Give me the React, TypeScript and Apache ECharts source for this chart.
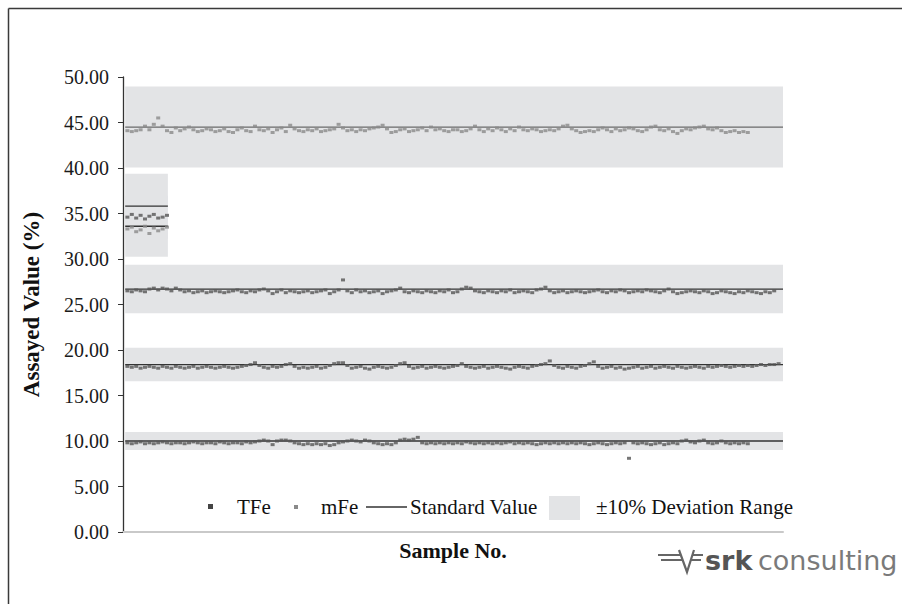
import React, { useEffect, useRef } from "react";
import * as echarts from "echarts";

// Standard (certified) values of the reference materials
const standardValues = [44.5, 35.8, 33.6, 26.7, 18.4, 10.0];
// Sample-number span covered by each standard's line and ±10% band
const standardSpans: [number, number][] = [
  [0.5, 150],
  [0.5, 10.2],
  [0.5, 10.2],
  [0.5, 150],
  [0.5, 150],
  [0.5, 150],
];

// Assayed values (sample No. = index + 1)
const mFe_44_5 = [
  44.1, 44.0, 44.1, 44.2, 44.6, 44.2, 44.8, 45.5, 44.6, 44.1,
  43.9, 44.4, 44.1, 44.3, 44.5, 44.2, 44.0, 44.1, 44.3, 44.2,
  44.0, 44.1, 44.3, 44.0, 43.9, 44.2, 44.4, 44.1, 44.0, 44.6,
  44.2, 44.1, 44.3, 43.9, 44.2, 44.4, 44.0, 44.7, 44.3, 44.1,
  44.0, 44.2, 44.1, 44.3, 44.0, 44.1, 44.2, 44.3, 44.8, 44.4,
  44.1, 44.2, 44.0, 44.2, 44.1, 44.3, 44.4, 44.5, 44.7, 44.3,
  43.9, 44.0, 44.2, 44.3, 44.0, 44.1, 44.2, 44.4, 44.1, 44.5,
  44.2, 44.3, 44.1, 44.0, 44.2, 44.2, 44.0, 44.1, 44.3, 44.6,
  44.2, 44.0, 44.3, 44.1, 44.4, 44.2, 44.0, 44.3, 44.1, 44.5,
  44.2, 44.1, 44.3, 44.2, 44.0, 44.1, 44.2, 44.1, 44.3, 44.6,
  44.7, 44.3, 44.1, 43.9, 44.0, 44.1, 44.0, 44.2, 44.4, 44.2,
  44.0, 44.3, 44.1, 44.2, 44.4, 44.3, 44.1, 44.0, 44.2, 44.5,
  44.6, 44.2, 44.1, 44.3, 44.0, 43.8, 44.1, 44.3, 44.2, 44.4,
  44.5, 44.6, 44.3, 44.2, 44.4, 44.1, 43.9, 44.0, 44.1, 43.9,
  44.0, 43.9,
];
const tFe_35_8 = [34.6, 34.9, 34.5, 34.8, 34.4, 34.7, 34.9, 34.5, 34.6, 34.8];
const mFe_33_6 = [33.3, 33.5, 33.0, 33.2, 33.6, 32.8, 33.4, 33.1, 33.3, 33.5];
const tFe_26_7 = [
  26.5, 26.4, 26.6, 26.5, 26.4, 26.7, 26.8, 26.6, 26.8, 26.7,
  26.5, 26.8, 26.6, 26.4, 26.5, 26.3, 26.4, 26.5, 26.3, 26.4,
  26.5, 26.4, 26.3, 26.4, 26.5, 26.6, 26.4, 26.3, 26.5, 26.4,
  26.6, 26.7, 26.5, 26.2, 26.4, 26.6, 26.3, 26.5, 26.4, 26.3,
  26.4, 26.5, 26.3, 26.4, 26.5, 26.6, 26.2, 26.4, 26.6, 27.7,
  26.5, 26.3, 26.6, 26.4, 26.5, 26.3, 26.4, 26.5, 26.2, 26.4,
  26.5, 26.6, 26.8, 26.4, 26.3, 26.5, 26.4, 26.3, 26.5, 26.4,
  26.3, 26.5, 26.4, 26.6, 26.3, 26.4, 26.7, 26.9, 26.8, 26.5,
  26.4, 26.3, 26.5, 26.4, 26.3, 26.5, 26.4, 26.6, 26.3, 26.4,
  26.5, 26.4, 26.3, 26.6, 26.7, 26.9, 26.5, 26.3, 26.4, 26.5,
  26.3, 26.4, 26.5, 26.4, 26.3, 26.4, 26.5, 26.6, 26.4, 26.3,
  26.5, 26.4, 26.6, 26.5, 26.3, 26.4, 26.5, 26.4, 26.6, 26.5,
  26.4, 26.3, 26.5, 26.7, 26.4, 26.2, 26.3, 26.4, 26.5, 26.4,
  26.3, 26.5, 26.4, 26.2, 26.3, 26.5, 26.4, 26.3, 26.2, 26.4,
  26.3, 26.5, 26.4, 26.3, 26.2, 26.4, 26.3, 26.5,
];
const tFe_18_4 = [
  18.2, 18.1, 18.2, 18.0, 18.1, 18.2, 18.1, 18.0, 18.2, 18.1,
  18.0, 18.2, 18.1, 18.0, 18.1, 18.2, 18.0, 18.1, 18.2, 18.1,
  18.0, 18.1, 18.2, 18.1, 18.0, 18.1, 18.2, 18.3, 18.4, 18.6,
  18.3, 18.1, 18.0, 18.2, 18.1, 18.2, 18.4, 18.5, 18.2, 18.0,
  18.1, 18.0, 18.1, 18.2, 18.0, 18.1, 18.3, 18.5, 18.6, 18.6,
  18.3, 18.0, 18.1, 18.2, 18.0, 17.9, 18.1, 18.2, 18.1, 18.0,
  18.1, 18.3, 18.5, 18.6, 18.2, 18.0, 18.1, 18.2, 18.0, 18.1,
  18.2, 18.1, 18.0, 18.1, 18.2, 18.3, 18.5, 18.2, 18.1, 18.0,
  18.1, 18.2, 18.0, 18.1, 18.2, 18.1, 18.0, 17.9, 18.1, 18.2,
  18.1, 18.0, 18.2, 18.3, 18.4, 18.5, 18.8, 18.3, 18.1, 18.0,
  18.2, 18.1, 18.0, 18.2, 18.3, 18.5, 18.7, 18.2, 18.0, 18.1,
  18.2, 18.0, 18.1, 17.9, 18.0, 18.1, 18.2, 18.0, 18.1, 18.2,
  18.0, 18.1, 18.2, 18.1, 18.0, 18.2, 18.1, 18.0, 18.1, 18.2,
  18.1, 18.0, 18.2, 18.1, 18.2, 18.3, 18.2, 18.1, 18.2, 18.3,
  18.2, 18.3, 18.2, 18.3, 18.4, 18.3, 18.4, 18.4, 18.5,
];
const tFe_10_0 = [
  9.8, 9.7, 9.8, 9.9, 9.7, 9.8, 9.7, 9.8, 9.9, 9.8,
  9.7, 9.8, 9.8, 9.7, 9.8, 9.9, 9.8, 9.7, 9.8, 9.8,
  9.7, 9.9, 9.8, 9.7, 9.8, 9.8, 9.7, 9.9, 9.8, 9.9,
  10.0, 10.1, 10.0, 9.6, 10.0, 10.1, 10.1, 10.0, 9.8, 9.7,
  9.6, 9.7, 9.6, 9.7, 9.6, 9.7, 9.5, 9.6, 9.8, 9.9,
  10.0, 10.1, 10.0, 9.9, 10.1, 10.0, 9.8, 9.7, 9.6, 9.7,
  9.6, 9.8, 10.1, 10.2, 10.1, 10.2, 10.4, 9.8, 9.7, 9.8,
  9.7, 9.8, 9.7, 9.8, 9.7, 9.8, 9.7, 9.9, 9.8, 9.7,
  9.8, 9.7, 9.8, 9.7, 9.8, 9.7, 9.8, 9.9, 9.7, 9.8,
  9.7, 9.8, 9.7, 9.6, 9.7, 9.8, 9.7, 9.8, 9.7, 9.8,
  9.7, 9.8, 9.7, 9.8, 9.7, 9.6, 9.7, 9.8, 9.7, 9.6,
  9.7, 9.8, 9.7, 9.8, 8.1, 9.8, 9.7, 9.8, 9.7, 9.6,
  9.7, 9.8, 9.6, 9.7, 9.8, 9.7, 10.0, 10.1, 9.9, 9.8,
  10.0, 10.1, 9.8, 9.7, 9.8, 10.0, 9.8, 9.7, 9.8, 9.7,
  9.8, 9.7,
];

const tFeGroups = [tFe_35_8, tFe_26_7, tFe_18_4, tFe_10_0];
const mFeGroups = [mFe_44_5, mFe_33_6];

const legendLabels = ["TFe", "mFe", "Standard Value", "±10% Deviation Range"];
const xAxisName = "Sample No.";
const yAxisName = "Assayed Value (%)";

const SERIF = "'Liberation Serif', 'Times New Roman', serif";
const BAND_COLOR = "#e3e4e6";

export default function App() {
  const ref = useRef<HTMLDivElement>(null);

  useEffect(() => {
    if (!ref.current) return;
    const chart = echarts.init(ref.current, undefined, { renderer: "svg" });

    const toPoints = (vals: number[]) => vals.map((v, i) => [i + 1, v]);

    const bandSeries = {
      type: "line",
      name: legendLabels[3],
      data: [],
      z: 1,
      markArea: {
        silent: true,
        itemStyle: { color: BAND_COLOR },
        data: standardValues.map((s, i) => [
          { xAxis: standardSpans[i][0], yAxis: s * 0.9 },
          { xAxis: standardSpans[i][1], yAxis: s * 1.1 },
        ]),
      },
    };

    const stdSeries = standardValues.map((s, i) => ({
      type: "line",
      name: legendLabels[2],
      data: [
        [standardSpans[i][0], s],
        [standardSpans[i][1], s],
      ],
      symbol: "none",
      z: 3,
      lineStyle: { color: i === 0 ? "#6a6a6a" : "#333333", width: 1.3 },
    }));

    const tFeSeries = tFeGroups.map((g) => ({
      type: "scatter",
      name: legendLabels[0],
      data: toPoints(g),
      symbol: "rect",
      symbolSize: [4, 3],
      z: 4,
      itemStyle: { color: "#555555" },
    }));

    const mFeSeries = mFeGroups.map((g) => ({
      type: "scatter",
      name: legendLabels[1],
      data: toPoints(g),
      symbol: "rect",
      symbolSize: [4, 3],
      z: 4,
      itemStyle: { color: "#8a8a8a" },
    }));

    const legendY = 507;
    const legendFont = `21px ${SERIF}`;

    chart.setOption({
      animation: false,
      backgroundColor: "#ffffff",
      grid: { left: 123, right: 119, top: 77, bottom: 72 },
      xAxis: {
        type: "value",
        min: 0,
        max: 150,
        axisLine: { show: true, lineStyle: { color: "#c9c9c9", width: 2 } },
        axisTick: { show: false },
        axisLabel: { show: false },
        splitLine: { show: false },
        name: xAxisName,
        nameLocation: "middle",
        nameGap: 7,
        nameTextStyle: {
          fontFamily: SERIF,
          fontWeight: "bold",
          fontSize: 22,
          color: "#111",
        },
      },
      yAxis: {
        type: "value",
        min: 0,
        max: 50,
        interval: 5,
        axisLine: { show: true, lineStyle: { color: "#333", width: 1.3 } },
        axisTick: { show: true, length: 5, lineStyle: { color: "#333" } },
        axisLabel: {
          formatter: (v: number) => v.toFixed(2),
          fontFamily: SERIF,
          fontSize: 20,
          color: "#1a1a1a",
          margin: 14,
        },
        splitLine: { show: false },
        name: yAxisName,
        nameLocation: "middle",
        nameGap: 80,
        nameRotate: 90,
        nameTextStyle: {
          fontFamily: SERIF,
          fontWeight: "bold",
          fontSize: 23,
          color: "#111",
        },
      },
      legend: { show: false },
      series: [bandSeries, ...stdSeries, ...tFeSeries, ...mFeSeries],
      graphic: [
        {
          type: "line",
          silent: true,
          shape: { x1: 8.5, y1: 8.5, x2: 8.5, y2: 604 },
          style: { stroke: "#3a3a3a", lineWidth: 1.5 },
        },
        {
          type: "line",
          silent: true,
          shape: { x1: 8.5, y1: 8.5, x2: 902, y2: 8.5 },
          style: { stroke: "#3a3a3a", lineWidth: 1.5 },
        },
        // legend
        {
          type: "rect",
          shape: { x: 208, y: legendY - 3, width: 5, height: 5 },
          style: { fill: "#444" },
        },
        {
          type: "text",
          x: 237,
          y: legendY,
          style: { text: legendLabels[0], font: legendFont, fill: "#111", verticalAlign: "middle" },
        },
        {
          type: "rect",
          shape: { x: 294, y: legendY - 2, width: 4, height: 4 },
          style: { fill: "#8a8a8a" },
        },
        {
          type: "text",
          x: 321,
          y: legendY,
          style: { text: legendLabels[1], font: legendFont, fill: "#111", verticalAlign: "middle" },
        },
        {
          type: "line",
          shape: { x1: 366, y1: legendY, x2: 407, y2: legendY },
          style: { stroke: "#333", lineWidth: 1.5 },
        },
        {
          type: "text",
          x: 410,
          y: legendY,
          style: { text: legendLabels[2], font: legendFont, fill: "#111", verticalAlign: "middle" },
        },
        {
          type: "rect",
          shape: { x: 549, y: legendY - 11, width: 31, height: 24 },
          style: { fill: BAND_COLOR },
        },
        {
          type: "text",
          x: 596,
          y: legendY,
          style: { text: legendLabels[3], font: legendFont, fill: "#111", verticalAlign: "middle" },
        },
        // logo
        {
          type: "group",
          silent: true,
          children: [
            { type: "line", shape: { x1: 658, y1: 555, x2: 680, y2: 555 }, style: { stroke: "#666", lineWidth: 2 } },
            { type: "line", shape: { x1: 661, y1: 560, x2: 682, y2: 560 }, style: { stroke: "#666", lineWidth: 2 } },
            { type: "line", shape: { x1: 693, y1: 555, x2: 703, y2: 555 }, style: { stroke: "#666", lineWidth: 2 } },
            { type: "line", shape: { x1: 691, y1: 560, x2: 701, y2: 560 }, style: { stroke: "#666", lineWidth: 2 } },
            {
              type: "polyline",
              shape: { points: [[679, 550], [687, 572], [694, 550]] },
              style: { stroke: "#666", lineWidth: 2.2, fill: "none" },
            },
            {
              type: "text",
              x: 705,
              y: 560,
              style: {
                text: "srk",
                font: "bold 27px 'DejaVu Sans', sans-serif",
                fill: "#555",
                verticalAlign: "middle",
              },
            },
            {
              type: "text",
              x: 758,
              y: 560,
              style: {
                text: "consulting",
                font: "27px 'DejaVu Sans', sans-serif",
                fill: "#7a7a7a",
                verticalAlign: "middle",
              },
            },
          ],
        },
      ],
    });

    return () => chart.dispose();
  }, []);

  return (
    <div
      ref={ref}
      style={{ position: "fixed", left: 0, top: 0, width: 902, height: 604, background: "#fff" }}
    />
  );
}
